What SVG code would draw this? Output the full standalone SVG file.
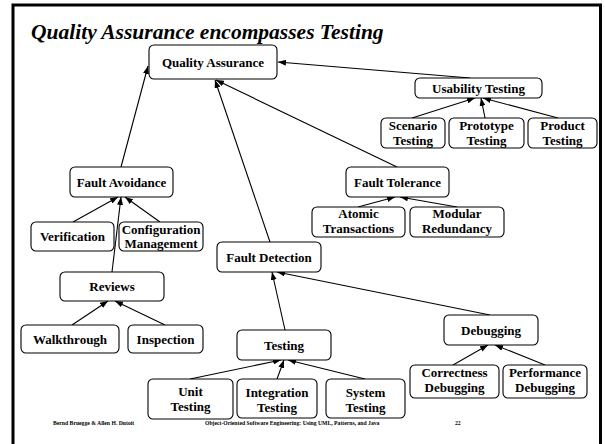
<svg xmlns="http://www.w3.org/2000/svg" width="605" height="444" viewBox="0 0 605 444">
  <style>
    .node rect { fill: #ffffff; stroke: #000000; stroke-width: 1.1; }
    .node text { font-family: "Liberation Serif", "Times New Roman", serif; font-weight: bold; font-size: 13px; fill: #000000; text-anchor: middle; }
    .edges line { stroke: #000000; stroke-width: 1.1; marker-end: url(#tip); }
    .title { font-family: "Liberation Serif", "Times New Roman", serif; font-weight: bold; font-style: italic; font-size: 21.5px; fill: #000000; }
    .foot { font-family: "Liberation Serif", "Times New Roman", serif; font-weight: bold; font-size: 5.7px; fill: #000000; }
  </style>
  <defs>
    <marker id="tip" markerUnits="userSpaceOnUse" markerWidth="8" markerHeight="6" refX="8" refY="3" orient="auto">
      <path d="M0,0 L8,3 L0,6 z" fill="#000000"/>
    </marker>
  </defs>

  <rect x="0" y="0" width="605" height="444" fill="#ffffff"/>
  <!-- slide frame -->
  <path d="M13,444 L13,5 L600.5,5 L600.5,444" fill="none" stroke="#000000" stroke-width="3"/>

  <text class="title" x="31" y="39">Quality Assurance encompasses Testing</text>

  <g class="edges">
    <line x1="470" y1="78" x2="278" y2="62"/>
    <line x1="412" y1="118" x2="475" y2="98"/>
    <line x1="485" y1="118" x2="481" y2="98"/>
    <line x1="558" y1="118" x2="483" y2="98"/>
    <line x1="397" y1="167" x2="216" y2="80"/>
    <line x1="270" y1="242" x2="215" y2="80"/>
    <line x1="121" y1="167" x2="148" y2="66"/>
    <line x1="358" y1="207" x2="395" y2="197"/>
    <line x1="457" y1="207" x2="400" y2="197"/>
    <line x1="73" y1="222" x2="118" y2="197"/>
    <line x1="160" y1="222" x2="125" y2="197"/>
    <line x1="112" y1="272" x2="121" y2="197"/>
    <line x1="72" y1="325" x2="108" y2="301"/>
    <line x1="165" y1="325" x2="115" y2="301"/>
    <line x1="285" y1="330" x2="272" y2="272"/>
    <line x1="490" y1="315" x2="277" y2="272"/>
    <line x1="190" y1="379" x2="281" y2="360"/>
    <line x1="277" y1="379" x2="284" y2="360"/>
    <line x1="365" y1="379" x2="288" y2="360"/>
    <line x1="453" y1="365" x2="488" y2="345"/>
    <line x1="545" y1="365" x2="495" y2="345"/>
  </g>

  <g id="quality-assurance" class="node">
    <rect x="149" y="45" width="128" height="34" rx="5"/>
    <text x="213" y="66.5">Quality Assurance</text>
  </g>
  <g id="usability-testing" class="node">
    <rect x="415" y="78" width="127" height="20" rx="5"/>
    <text x="478.5" y="92.5">Usability Testing</text>
  </g>
  <g id="scenario-testing" class="node">
    <rect x="381" y="118" width="64" height="30" rx="5"/>
    <text x="413" y="130">Scenario</text>
    <text x="413" y="145">Testing</text>
  </g>
  <g id="prototype-testing" class="node">
    <rect x="449" y="118" width="75" height="30" rx="5"/>
    <text x="486.5" y="130">Prototype</text>
    <text x="486.5" y="145">Testing</text>
  </g>
  <g id="product-testing" class="node">
    <rect x="528" y="118" width="69" height="30" rx="5"/>
    <text x="562.5" y="130">Product</text>
    <text x="562.5" y="145">Testing</text>
  </g>
  <g id="fault-tolerance" class="node">
    <rect x="346" y="167" width="103" height="30" rx="5"/>
    <text x="397.5" y="186.5">Fault Tolerance</text>
  </g>
  <g id="atomic-transactions" class="node">
    <rect x="312" y="207" width="93" height="30" rx="5"/>
    <text x="358.5" y="218">Atomic</text>
    <text x="358.5" y="233">Transactions</text>
  </g>
  <g id="modular-redundancy" class="node">
    <rect x="410" y="207" width="94" height="30" rx="5"/>
    <text x="457" y="218">Modular</text>
    <text x="457" y="233">Redundancy</text>
  </g>
  <g id="fault-avoidance" class="node">
    <rect x="70" y="167" width="103" height="30" rx="5"/>
    <text x="121.5" y="186.5">Fault Avoidance</text>
  </g>
  <g id="verification" class="node">
    <rect x="31" y="222" width="83" height="29" rx="5"/>
    <text x="72.5" y="241">Verification</text>
  </g>
  <g id="configuration-management" class="node">
    <rect x="119" y="222" width="84" height="29" rx="5"/>
    <text x="161" y="234">Configuration</text>
    <text x="161" y="248">Management</text>
  </g>
  <g id="reviews" class="node">
    <rect x="60" y="272" width="104" height="29" rx="5"/>
    <text x="112" y="291">Reviews</text>
  </g>
  <g id="walkthrough" class="node">
    <rect x="21" y="325" width="98" height="28" rx="5"/>
    <text x="70" y="343.5">Walkthrough</text>
  </g>
  <g id="inspection" class="node">
    <rect x="128" y="325" width="75" height="28" rx="5"/>
    <text x="165.5" y="343.5">Inspection</text>
  </g>
  <g id="fault-detection" class="node">
    <rect x="217" y="242" width="104" height="30" rx="5"/>
    <text x="269" y="261.5">Fault Detection</text>
  </g>
  <g id="testing" class="node">
    <rect x="237" y="330" width="94" height="30" rx="5"/>
    <text x="284" y="349.5">Testing</text>
  </g>
  <g id="unit-testing" class="node">
    <rect x="148" y="379" width="85" height="40" rx="5"/>
    <text x="190.5" y="396">Unit</text>
    <text x="190.5" y="411">Testing</text>
  </g>
  <g id="integration-testing" class="node">
    <rect x="237" y="379" width="80" height="39" rx="5"/>
    <text x="277" y="397">Integration</text>
    <text x="277" y="412">Testing</text>
  </g>
  <g id="system-testing" class="node">
    <rect x="326" y="379" width="79" height="39" rx="5"/>
    <text x="365.5" y="397">System</text>
    <text x="365.5" y="412">Testing</text>
  </g>
  <g id="debugging" class="node">
    <rect x="444" y="315" width="94" height="30" rx="5"/>
    <text x="491" y="334.5">Debugging</text>
  </g>
  <g id="correctness-debugging" class="node">
    <rect x="410" y="365" width="89" height="33" rx="5"/>
    <text x="454.5" y="377">Correctness</text>
    <text x="454.5" y="392">Debugging</text>
  </g>
  <g id="performance-debugging" class="node">
    <rect x="503" y="365" width="84" height="33" rx="5"/>
    <text x="545" y="377">Performance</text>
    <text x="545" y="392">Debugging</text>
  </g>

  <text class="foot" x="53" y="425">Bernd Bruegge &amp; Allen H. Dutoit</text>
  <text class="foot" x="205" y="425">Object-Oriented Software Engineering: Using UML, Patterns, and Java</text>
  <text class="foot" x="455" y="425">22</text>
</svg>
